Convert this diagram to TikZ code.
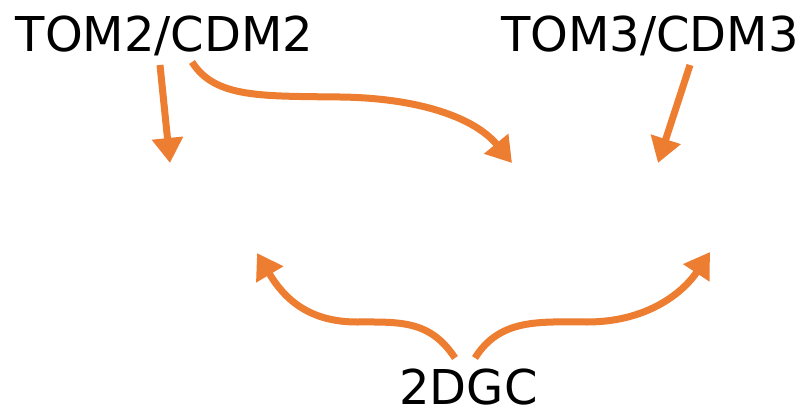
\documentclass[tikz,border=0pt]{standalone}
\usepackage{fontspec}
\setmainfont{DejaVu Sans}
\usetikzlibrary{arrows.meta}
\usetikzlibrary{positioning}

\definecolor{arroworange}{HTML}{ED7D31}

\begin{document}
\begin{tikzpicture}[x=1pt,y=-1pt,
	every node/.style={inner sep=0pt,text depth=0pt,anchor=base,font=\fontsize{48}{58}\selectfont},
	flow/.style={draw=arroworange,line width=7pt,-{Triangle[width=30pt,length=25pt]}}]

	\useasboundingbox (0,0) rectangle (809,409);

	\node (tom2) at (164.5,52) {TOM2/CDM2};
	\node (tom3) at (650,52) {TOM3/CDM3};
	\node (dgc) at (468.5,404) {2DGC};

	\coordinate (e1) at (170,163);
	\coordinate (e2) at (512,163);
	\coordinate (e3) at (658,163);
	\coordinate (e4) at (257,253);
	\coordinate (e5) at (710,252);

	\draw[flow] ([shift={(-4.5,13)}]tom2.base) -- (e1);
	\draw[flow] ([shift={(27.5,10)}]tom2.base) .. controls (215,98) and (260,96) .. (340,97)
		.. controls (420,98) and (475,118) .. (e2);
	\draw[flow] ([shift={(40,13)}]tom3.base) -- (e3);
	\draw[flow] ([shift={(-13.5,-46)}]dgc.base) .. controls (430,320) and (400,322) .. (357,322)
		.. controls (310,322) and (285,300) .. (e4);
	\draw[flow] ([shift={(6.5,-46)}]dgc.base) .. controls (500,318) and (540,322) .. (587,322)
		.. controls (650,322) and (685,290) .. (e5);

\end{tikzpicture}
\end{document}
